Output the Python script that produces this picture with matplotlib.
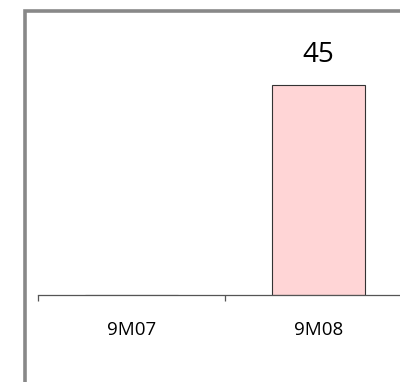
import matplotlib.pyplot as plt
from matplotlib.lines import Line2D

categories = ['9M07', '9M08']
values = [0, 45]

W, H = 400, 382
plt.rcParams['font.family'] = ['Open Sans', 'DejaVu Sans']

fig = plt.figure(figsize=(W / 100, H / 100), dpi=100)

# axes in pixel coords: left 38, right 412 (runs off the figure), bottom 295
left, right, bottom, top = 38, 412, 295, 15
ax = fig.add_axes([left / W, 1 - bottom / H, (right - left) / W, (bottom - top) / H])

ax.bar(range(len(categories)), values, width=0.5, color='#ffd5d6',
       edgecolor='#333333', linewidth=0.8)

for i, v in enumerate(values):
    if v > 0:
        ax.annotate(str(v), (i, v), xytext=(0, 16.5), textcoords='offset points',
                    ha='center', va='baseline', fontsize=20, color='black')

ax.set_xlim(-0.5, 1.5)
ax.set_ylim(0, 60)

for s in ['top', 'right', 'left']:
    ax.spines[s].set_visible(False)
ax.spines['bottom'].set_color('#555555')
ax.spines['bottom'].set_linewidth(0.9)
ax.set_yticks([])

ax.set_xticks(range(len(categories)), categories, fontsize=13.5)
ax.set_xticks([-0.5, 0.5, 1.5], minor=True)
ax.tick_params(axis='x', which='major', length=0, pad=19)
ax.tick_params(axis='x', which='minor', length=4, width=0.9, color='#555555', direction='out')
ax.patch.set_visible(False)

# gray frame on the left and top
fig.add_artist(Line2D([24.5 / W, 24.5 / W, 1.0], [0.0, 1 - 10.5 / H, 1 - 10.5 / H],
                      transform=fig.transFigure, color='#888888', linewidth=2.6,
                      solid_joinstyle='miter'))

fig.savefig('out.png', dpi=100)
